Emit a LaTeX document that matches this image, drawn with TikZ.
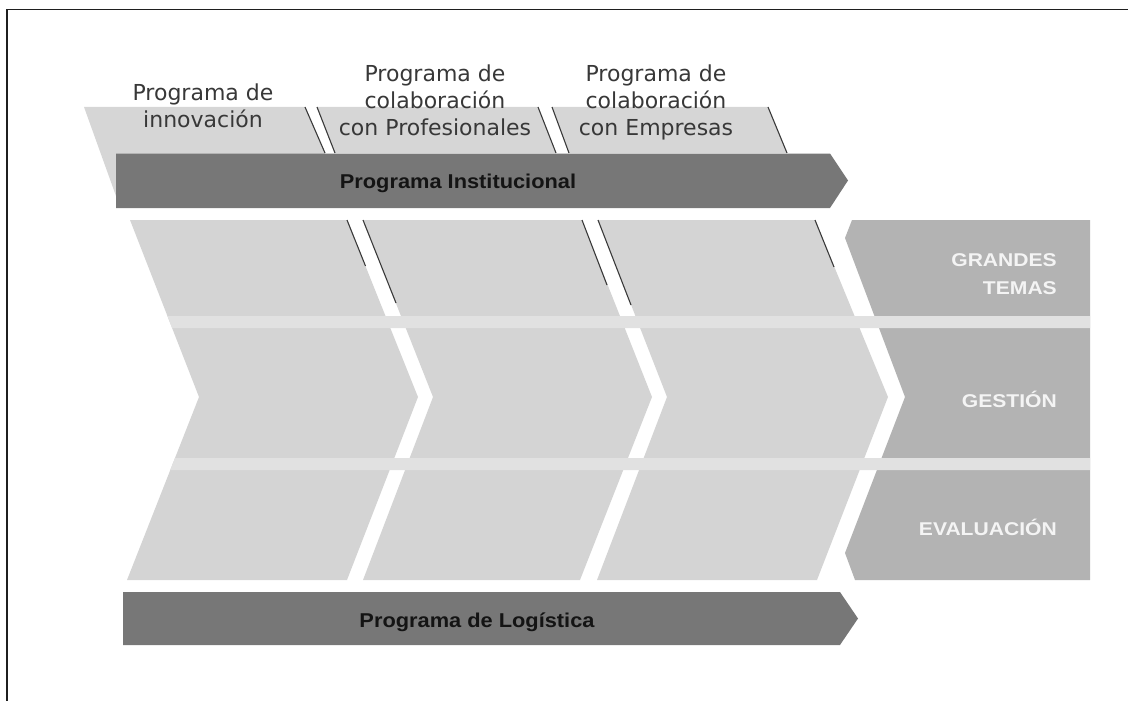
\documentclass[tikz,border=0pt]{standalone}
\usepackage{fontspec}
\setmainfont{DejaVu Sans}
\newfontfamily\arialf{Liberation Sans}
\usetikzlibrary{calc}
\definecolor{tabgray}{HTML}{D6D6D6}
\definecolor{chevgray}{HTML}{D4D4D4}
\definecolor{stripegray}{HTML}{E1E1E1}
\definecolor{boxgray}{HTML}{B3B3B3}
\definecolor{bargray}{HTML}{777777}
\definecolor{sepline}{HTML}{3A3A3A}
\definecolor{labeltext}{HTML}{383838}
\definecolor{boxtext}{HTML}{F4F4F4}
\tikzset{
  tabfill/.style={fill=tabgray, draw=none},
  chevfill/.style={fill=chevgray, draw=none},
  stripefill/.style={fill=stripegray, draw=none},
  boxfill/.style={fill=boxgray, draw=none},
  barfill/.style={fill=bargray, draw=none},
  sepl/.style={draw=sepline, line width=1.1pt},
  tablabel/.style={inner sep=0pt, align=center, text=labeltext, font=\fontsize{22}{27}\selectfont},
  barlabel/.style={inner sep=0pt, text=black!92, font=\arialf\bfseries\fontsize{20}{24}\selectfont},
  boxlabel/.style={inner sep=0pt, text=boxtext, font=\arialf\bfseries\fontsize{18.5}{27}\selectfont},
  frameline/.style={draw=black!88, line width=1.3pt}
}
\newcommand{\wide}[1]{\scalebox{1.09}[1]{#1}}
\begin{document}
\begin{tikzpicture}[x=1pt,y=-1pt]
\useasboundingbox (0,0) rectangle (1128,701);
% frame
\draw[frameline] (7,701) -- (7,9.5) -- (1128,9.5);

% top tabs
\fill[tabfill] (84,107) -- (305,107) -- (325,153) -- (325,196) -- (116,196) -- cycle;
\fill[tabfill] (317,107) -- (538,107) -- (556,153) -- (335,153) -- cycle;
\fill[tabfill] (552,107) -- (768,107) -- (787,153) -- (569,153) -- cycle;
\draw[sepl] (305,107) -- (325,153);
\draw[sepl] (317,107) -- (335,153);
\draw[sepl] (538,107) -- (556,153);
\draw[sepl] (552,107) -- (569,153);
\draw[sepl] (768,107) -- (787,153);

% institutional bar
\fill[barfill] (116,153.5) -- (830,153.5) -- (848,180.5) -- (830,208) -- (116,208) -- cycle;
\node[barlabel, anchor=base] (inst) at (458,188.5) {\wide{Programa Institucional}};

% chevron columns
\fill[chevfill] (130,220) -- (347,220) -- (418,397) -- (347,580) -- (127,580) -- (199,397) -- cycle;
\fill[chevfill] (363,220) -- (582,220) -- (652,397) -- (580,580) -- (363,580) -- (433,397) -- cycle;
\fill[chevfill] (598,220) -- (815,220) -- (888,397) -- (817,580) -- (597,580) -- (667,397) -- cycle;
% right boxes
\fill[boxfill] (852,220) -- (1090,220) -- (1090,580) -- (855,580) -- (845,553) -- (905,397) -- (845,238) -- cycle;

% stripes
\fill[stripefill] (167.4,316) -- (1090,316) -- (1090,328) -- (172.1,328) -- cycle;
\fill[stripefill] (175,458) -- (1090,458) -- (1090,470) -- (170.3,470) -- cycle;

% separator marks in the first row
\draw[sepl] (347,220) -- (365.5,266);
\draw[sepl] (363,220) -- (396,303);
\draw[sepl] (582,220) -- (607,285);
\draw[sepl] (598,220) -- (631,305);
\draw[sepl] (815,220) -- (834,267);

% logistics bar
\fill[barfill] (123,592) -- (840,592) -- (858,618.5) -- (840,645) -- (123,645) -- cycle;
\node[barlabel, anchor=base] (logi) at (477,627) {\wide{Programa de Logística}};

% tab labels
\node[tablabel, anchor=north] (innov) at (203,83.5) {Programa de\\innovación};
\node[tablabel, anchor=north] (prof) at (435,64.5) {Programa de\\colaboración\\con Profesionales};
\node[tablabel, anchor=north] (empr) at (656,64.5) {Programa de\\colaboración\\con Empresas};

% right box labels
\node[boxlabel, anchor=base east] (grandes) at (1057,266) {\scalebox{1.14}[1]{GRANDES}};
\node[boxlabel, anchor=base east] (temas) at (1057,294) {\scalebox{1.14}[1]{TEMAS}};
\node[boxlabel, anchor=base east] (gestion) at (1057,407) {\scalebox{1.14}[1]{GESTIÓN}};
\node[boxlabel, anchor=base east] (evalua) at (1057,535) {\scalebox{1.14}[1]{EVALUACIÓN}};
\end{tikzpicture}
\end{document}
